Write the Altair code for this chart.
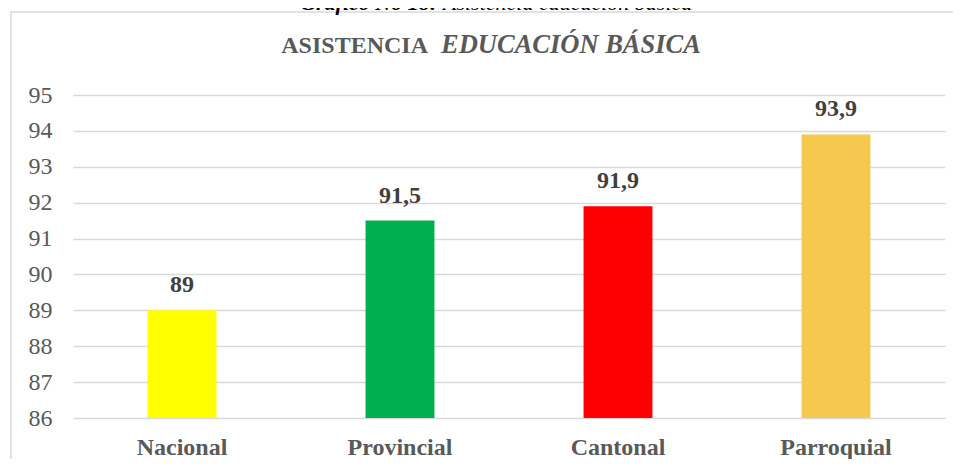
import altair as alt
import pandas as pd

categories = ["Nacional", "Provincial", "Cantonal", "Parroquial"]
values = [89, 91.5, 91.9, 93.9]
labels = ["89", "91,5", "91,9", "93,9"]
colors = ["#FFFF00", "#00B050", "#FF0000", "#F6C84E"]
y_ticks = [86, 87, 88, 89, 90, 91, 92, 93, 94, 95]

caption_bold = "Gráfico No 18:"
caption_rest = "Asistencia educación básica"
title_plain = "ASISTENCIA"
title_italic = "EDUCACIÓN BÁSICA"

FONT = "Liberation Serif"

df = pd.DataFrame({"cat": categories, "val": values, "lab": labels})
one = pd.DataFrame({"k": [0]})

x_scale = alt.Scale(paddingInner=0.684, paddingOuter=0.342)
y_scale = alt.Scale(domain=[86, 95], nice=False, zero=False)

x_axis = alt.Axis(
    title=None, labelAngle=0, ticks=False, domain=False, grid=False,
    labelFont=FONT, labelFontSize=24, labelFontWeight="bold",
    labelColor="#595959", labelBaseline="alphabetic", labelPadding=36,
)
y_axis = alt.Axis(
    title=None, values=y_ticks, tickCount=10, ticks=False, domain=False,
    grid=True, gridColor="#D9D9D9", gridWidth=1.3, labelOverlap=False,
    labelFont=FONT, labelFontSize=24, labelColor="#595959",
    labelPadding=21,
)

bars = alt.Chart(df).mark_bar().encode(
    x=alt.X("cat:N", sort=categories, scale=x_scale, axis=x_axis),
    y=alt.Y("val:Q", scale=y_scale, axis=y_axis),
    y2=alt.datum(86),
    color=alt.Color("cat:N", scale=alt.Scale(domain=categories, range=colors), legend=None),
)

text = alt.Chart(df).mark_text(
    dy=-18, baseline="alphabetic", font=FONT, fontSize=24,
    fontWeight="bold", color="#404040",
).encode(
    x=alt.X("cat:N", sort=categories, scale=x_scale, axis=x_axis),
    y=alt.Y("val:Q", scale=y_scale, axis=y_axis),
    text="lab:N",
)

border = alt.Chart(one).mark_rect(
    fill=None, fillOpacity=0, stroke="#D9D9D9", strokeWidth=1.5
).encode(
    x=alt.value(-62), x2=alt.value(895), y=alt.value(-83), y2=alt.value(400)
)

t1 = alt.Chart(one).mark_text(
    align="right", baseline="alphabetic", font=FONT, fontSize=24,
    fontWeight="bold", color="#595959",
).encode(x=alt.value(355), y=alt.value(-42), text=alt.value(title_plain))

t2 = alt.Chart(one).mark_text(
    align="left", baseline="alphabetic", font=FONT, fontSize=26.5,
    fontWeight="bold", fontStyle="italic", color="#595959",
).encode(x=alt.value(368), y=alt.value(-42), text=alt.value(title_italic))

c1 = alt.Chart(one).mark_text(
    align="right", baseline="alphabetic", font=FONT, fontSize=22,
    fontWeight="bold", fontStyle="italic", color="#000000",
).encode(x=alt.value(364), y=alt.value(-85), text=alt.value(caption_bold))

c2 = alt.Chart(one).mark_text(
    align="left", baseline="alphabetic", font=FONT, fontSize=22,
    fontStyle="italic", color="#000000",
).encode(x=alt.value(370), y=alt.value(-85), text=alt.value(caption_rest))

chart = alt.layer(border, bars, text, t1, t2, c1, c2).properties(
    width=872, height=323,
    autosize=alt.AutoSizeParams(type="none"),
    padding={"left": 65, "top": 87, "right": 8, "bottom": 41},
    background="white",
).configure_view(stroke=None)

chart.save("out.html", embed_options={"renderer": "svg", "actions": False})
